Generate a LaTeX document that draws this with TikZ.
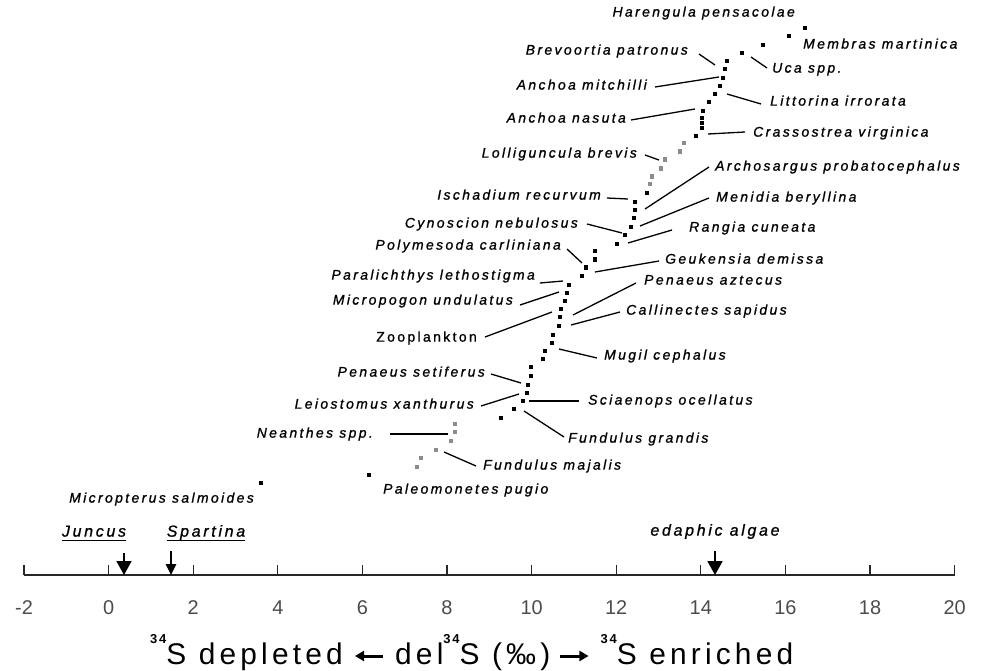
\documentclass[tikz,border=0pt]{standalone}
\usepackage{fontspec}
\setmainfont{Liberation Sans}
\newfontfamily\lblfont[LetterSpace=17,FakeBold=1]{Liberation Sans}
\newfontfamily\ttlfont[LetterSpace=14]{Liberation Sans}
\usetikzlibrary{arrows.meta,calc}
\newcommand\supfour{\raisebox{21bp}{\fontsize{13}{13}\selectfont\bfseries 34}}
\newcommand\leader[3]{\coordinate (#1a) at (#2); \coordinate (#1b) at (#3); \draw[lead] (#1a) -- (#1b);}
\begin{document}
\begin{tikzpicture}[x=1bp,y=-1bp,
  lab/.style={font=\lblfont\itshape\fontsize{14}{16}\selectfont, inner sep=0pt},
  labR/.style={lab, anchor=mid west},
  labL/.style={lab, anchor=mid east},
  lead/.style={line width=1.3bp, black},
  bdot/.style={rectangle, fill=black, inner sep=0pt, minimum size=4.4bp},
  gdot/.style={rectangle, fill=black!45, inner sep=0pt, minimum size=4.8bp},
  axisline/.style={line width=1.1bp, black!85},
  ticklab/.style={font=\fontsize{20}{22}\selectfont, text=black!70, inner sep=0pt},
  srcarrow/.style={line width=1.8bp, -{Triangle[width=15bp,length=14bp]}},
  srcarrowsmall/.style={line width=1.6bp, -{Triangle[width=10.5bp,length=11bp]}},
  srclab/.style={font=\lblfont\itshape\fontsize{16}{18}\selectfont, inner sep=0pt, anchor=mid},
  ttl/.style={font=\ttlfont\fontsize{30}{32}\selectfont, inner sep=0pt, anchor=base west},
  tarr/.style={line width=3bp, -{Triangle[width=10bp,length=9bp]}},
  ]
\useasboundingbox[fill=white] (0,0) rectangle (983,671);

% ---------- data points ----------
\foreach \x/\y [count=\k] in {805/28,789/36,763/45,742/53,727/61,725/69,723/78,720/86,715/94,709/102,703/111,702/118,702/123,702/128,696/136}
  \node[bdot] (a\k) at (\x,\y) {};
\foreach \x/\y [count=\k] in {684/143,680/151.5,665/159.5,661/168.5,652/176.5,650/184}
  \node[gdot] (g\k) at (\x,\y) {};
\foreach \x/\y [count=\k] in {647/193,635/202,635/210,634/218,631/227,625/235,617/244,595/251,595/259.5,586/267.5,582/276,569/285,567/293,565/301,561/309,560/317,559/326,553/335,552/343,545/351,543/359,531/367,531/376,528/385,527/393,523/401,514/409,501/418}
  \node[bdot] (b\k) at (\x,\y) {};
\foreach \x/\y [count=\k] in {455/424,455/432,451/441,436/450,421/458,417/467}
  \node[gdot] (h\k) at (\x,\y) {};
\foreach \x/\y [count=\k] in {369/475,261/483}
  \node[bdot] (c\k) at (\x,\y) {};

% ---------- labels ----------
\node[labL] (harengula) at (795,14) {Harengula pensacolae};
\node[labR] (membras) at (803,46) {Membras martinica};
\node[labL] (brevoortia) at (688,52) {Brevoortia patronus};
\node[labR] (uca) at (772,70) {Uca spp.};
\node[labL] (mitchilli) at (647,87) {Anchoa mitchilli};
\node[labR] (littorina) at (770,103) {Littorina irrorata};
\node[labL] (nasuta) at (626,120) {Anchoa nasuta};
\node[labR] (crassostrea) at (753,134) {Crassostrea virginica};
\node[labL] (lolliguncula) at (637,155) {Lolliguncula brevis};
\node[labR] (archosargus) at (715,168) {Archosargus probatocephalus};
\node[labL] (ischadium) at (601,197) {Ischadium recurvum};
\node[labR] (menidia) at (716,199) {Menidia beryllina};
\node[labL] (cynoscion) at (578,225) {Cynoscion nebulosus};
\node[labR] (rangia) at (689,229) {Rangia cuneata};
\node[labL] (polymesoda) at (561,247) {Polymesoda carliniana};
\node[labR] (geukensia) at (665,261) {Geukensia demissa};
\node[labL] (paralichthys) at (535,277) {Paralichthys lethostigma};
\node[labR] (aztecus) at (644,282) {Penaeus aztecus};
\node[labL] (micropogon) at (513,302) {Micropogon undulatus};
\node[labR] (callinectes) at (626,312) {Callinectes sapidus};
\node[labL, font=\lblfont\fontsize{14}{16}\selectfont] (zooplankton) at (477,339) {Zooplankton};
\node[labR] (mugil) at (604,357) {Mugil cephalus};
\node[labL] (setiferus) at (485,374) {Penaeus setiferus};
\node[labR] (sciaenops) at (588,402) {Sciaenops ocellatus};
\node[labL] (leiostomus) at (474,406) {Leiostomus xanthurus};
\node[labL] (neanthes) at (373,435) {Neanthes spp.};
\node[labR] (grandis) at (568,440) {Fundulus grandis};
\node[labR] (majalis) at (483,467) {Fundulus majalis};
\node[labR] (paleomonetes) at (383,491) {Paleomonetes pugio};
\node[labL] (micropterus) at (254,500) {Micropterus salmoides};

% ---------- leader lines ----------
\leader{bre}{699,54}{715,65}
\leader{uca}{751,57}{767,68}
\leader{mit}{655,87}{719,77}
\leader{lit}{727,94}{761,104}
\leader{nas}{631,120}{695,109}
\leader{cra}{708,134}{745,132}
\leader{lol}{645,155}{659,160}
\leader{arc}{645,209}{709,167}
\leader{isc}{607,198}{628,199}
\leader{men}{640,226}{709,198}
\leader{cyn}{587,224}{622,233}
\leader{ran}{628,243}{672,230}
\leader{pol}{567,249}{582,263}
\leader{geu}{595,272}{659,261}
\leader{par}{540,283}{563,281}
\leader{mic}{520,305}{559,292}
\leader{zoo}{485,337}{552,312}
\leader{azt}{573,315}{636,283}
\leader{cal}{571,325}{620,312}
\leader{mug}{559,349}{597,358}
\leader{set}{491,374}{521,383}
\leader{lei}{481,406}{519,394}
\leader{sci}{529,401}{579,401}
\leader{gra}{524,411}{564,437}
\leader{nea}{390,434}{448,434}
\leader{maj}{444,452}{476,466}

% ---------- axis ----------
\coordinate (axL) at (24,575);
\coordinate (axR) at (954.6,575);
\draw[axisline] (axL) -- (axR);
\foreach \v [count=\k] in {-2,0,...,20} {
  \coordinate (tk\k) at ({24+(\v+2)*42.3},575);
  \draw[axisline] (tk\k) -- ++(0,-10);
  \node[ticklab] (tl\k) at ({24+(\v+2)*42.3},608) {\v};
}

% ---------- source markers ----------
\coordinate (junT) at (124,553);
\coordinate (junB) at (124,575);
\draw[srcarrow] (junT) -- (junB);
\coordinate (spaT) at (171,551);
\coordinate (spaB) at (171,575);
\draw[srcarrowsmall] (spaT) -- (spaB);
\coordinate (edaT) at (715,551);
\coordinate (edaB) at (715,575);
\draw[srcarrow] (edaT) -- (edaB);
\node[srclab] (juncus) at (94,534) {Juncus};
\node[srclab] (spartina) at (206,534) {Spartina};
\node[srclab] (edaphic) at (715,533) {edaphic algae};
\draw[line width=1.2bp] ([yshift=-4bp]juncus.base west) -- ([yshift=-4bp]juncus.base east);
\draw[line width=1.2bp] ([yshift=-4bp]spartina.base west) -- ([yshift=-4bp]spartina.base east);

% ---------- axis title ----------
\node[ttl] (tp1) at (150,664) {\supfour S depleted};
\coordinate (lB) at ([xshift=12bp,yshift=8bp]tp1.base east);
\coordinate (lA) at ([xshift=28bp]lB);
\draw[tarr] (lA) -- (lB);
\node[ttl] (tp2) at ([xshift=12bp,yshift=-8bp]lA) {del\supfour S (‰)};
\coordinate (rA) at ([xshift=10bp,yshift=8bp]tp2.base east);
\coordinate (rB) at ([xshift=28bp]rA);
\draw[tarr] (rA) -- (rB);
\node[ttl] (tp3) at ([xshift=12bp,yshift=-8bp]rB) {\supfour S enriched};
\end{tikzpicture}
\end{document}
